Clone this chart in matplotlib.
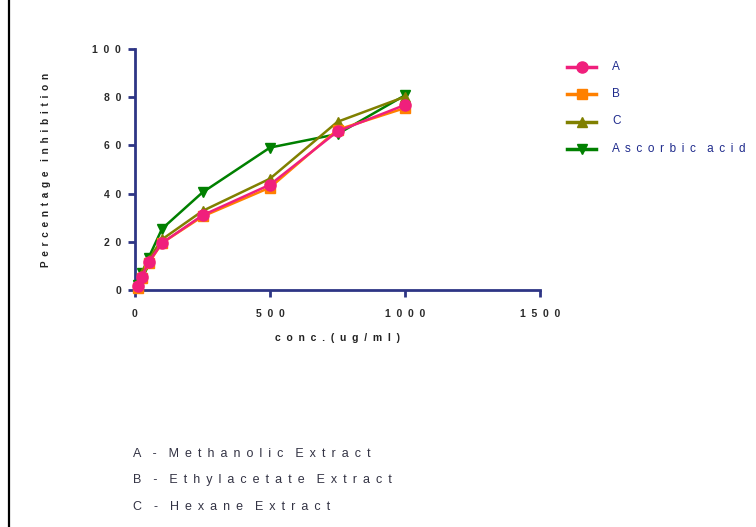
import matplotlib
matplotlib.use("Agg")
import matplotlib.pyplot as plt
from matplotlib.lines import Line2D
from matplotlib.ticker import FuncFormatter

plt.rcParams["font.family"] = ["Liberation Sans", "DejaVu Sans"]

conc = [10, 25, 50, 100, 250, 500, 750, 1000]
series_labels = ["A", "B", "C", "Ascorbic acid"]
inhib_a = [1.5, 5.5, 11.5, 19.5, 31.0, 43.7, 65.8, 76.8]
inhib_b = [1.0, 5.0, 11.0, 19.5, 30.5, 42.5, 66.5, 75.5]
inhib_c = [2.0, 7.0, 12.5, 21.0, 32.8, 46.2, 69.8, 80.2]
inhib_asc = [2.0, 7.0, 13.3, 25.4, 40.5, 59.1, 64.7, 80.8]
notes = ["A - Methanolic Extract", "B - Ethylacetate Extract", "C - Hexane Extract"]

NAVY = "#2E3585"
TXT = "#1E2A8C"
GAP = " \u2009"


def spaced(s, gap=GAP, wgap=None):
    # mimic the wide letter spacing of the original export
    if wgap is None:
        wgap = gap + gap
    return wgap.join(gap.join(w) for w in s.split(" "))


fig = plt.figure(figsize=(7.56, 5.27), dpi=100)
ax = fig.add_axes([135 / 756, 1 - 290 / 527, 405 / 756, 241 / 527])

# a, b, c, ascorbic -> colour, marker, size
styles = [
    (inhib_a, "#F01F7C", "o", 8),
    (inhib_b, "#FF8000", "s", 7),
    (inhib_c, "#808000", "^", 7.5),
    (inhib_asc, "#008000", "v", 7.5),
]
for vals, col, mk, ms in styles[::-1]:
    ax.plot(conc, vals, color=col, marker=mk, markersize=ms, linewidth=1.8,
            clip_on=False, zorder=3)

ax.set_xlim(0, 1500)
ax.set_ylim(0, 100)
ax.set_xticks([0, 500, 1000, 1500])
ax.set_yticks([0, 20, 40, 60, 80, 100])
fmt = FuncFormatter(lambda v, p: "  ".join(str(int(v))))
ax.xaxis.set_major_formatter(fmt)
ax.yaxis.set_major_formatter(fmt)
for s in ("top", "right"):
    ax.spines[s].set_visible(False)
for s in ("left", "bottom"):
    ax.spines[s].set_color(NAVY)
    ax.spines[s].set_linewidth(2)
ax.tick_params(colors=NAVY, width=2, length=5, direction="out")
ax.tick_params(axis="x", pad=9)
ax.tick_params(axis="y", pad=5)
for lab in ax.get_xticklabels() + ax.get_yticklabels():
    lab.set_color("#2a2a2a")
    lab.set_fontweight("bold")
    lab.set_fontsize(7.5)

ax.set_xlabel(spaced("conc.(ug/ml)", gap="  "), fontsize=7.5, fontweight="bold",
              color="#222222", labelpad=10)
ax.set_ylabel(spaced("Percentage inhibition"), fontsize=7.2, fontweight="bold",
              color="#222222")
ax.yaxis.set_label_coords(-(135 - 51) / 405, 0.5)

# legend drawn by hand to keep the row spacing of the original
for i, (lab, (vals, col, mk, ms)) in enumerate(zip(series_labels, styles)):
    y = 1 - (66.5 + 27.5 * i) / 527
    fig.add_artist(Line2D([567 / 756, 581.5 / 756, 596 / 756], [y, y, y],
                          color=col, linewidth=2.5, marker=mk, markersize=ms,
                          markevery=[1]))
    fig.text(612 / 756, y, spaced(lab), fontsize=8.5, color=TXT,
             va="center", ha="left")

for i, n in enumerate(notes):
    fig.text(133 / 756, 1 - (454 + 26.5 * i) / 527, spaced(n), fontsize=9,
             color="#333344", va="center", ha="left")

fig.add_artist(Line2D([9 / 756, 9 / 756], [0, 1], color="black", linewidth=1.6))

fig.savefig("out.png", dpi=100)
